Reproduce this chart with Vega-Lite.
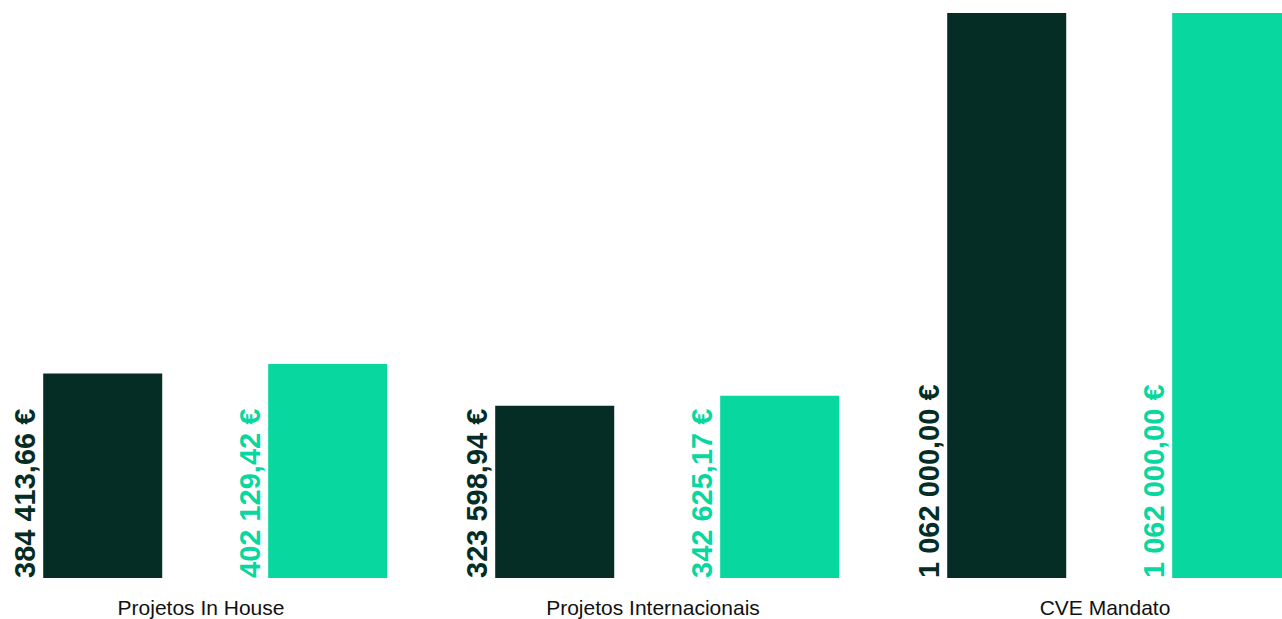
{
  "$schema": "https://vega.github.io/schema/vega-lite/v6.json",
  "width": 1282,
  "height": 565,
  "autosize": {"type": "none"},
  "padding": {"left": 0, "top": 13, "right": 0, "bottom": 41},
  "background": "#ffffff",
  "config": {
    "view": {"stroke": null},
    "locale": {"number": {"decimal": ",", "thousands": " ", "grouping": [3], "currency": ["", " €"]}}
  },
  "data": {
    "values": [
      {"categoria": "Projetos In House", "serie": "Orçamento", "valor": 384413.66},
      {"categoria": "Projetos In House", "serie": "Executado", "valor": 402129.42},
      {"categoria": "Projetos Internacionais", "serie": "Orçamento", "valor": 323598.94},
      {"categoria": "Projetos Internacionais", "serie": "Executado", "valor": 342625.17},
      {"categoria": "CVE Mandato", "serie": "Orçamento", "valor": 1062000},
      {"categoria": "CVE Mandato", "serie": "Executado", "valor": 1062000}
    ]
  },
  "encoding": {
    "x": {
      "field": "categoria", "type": "nominal",
      "sort": ["Projetos In House", "Projetos Internacionais", "CVE Mandato"],
      "scale": {"range": [0, 1356], "paddingInner": 0, "paddingOuter": 0},
      "axis": {"title": null, "domain": false, "ticks": false, "labelAngle": 0, "labelFontSize": 21, "labelFont": "Liberation Sans", "labelColor": "#111111", "labelPadding": 19, "labelOffset": -25, "labelLimit": 0}
    },
    "xOffset": {
      "field": "serie", "type": "nominal", "sort": ["Orçamento", "Executado"],
      "scale": {"paddingInner": 0.471, "paddingOuter": 0.24, "align": 0.4}
    },
    "color": {
      "field": "serie", "type": "nominal", "sort": ["Orçamento", "Executado"],
      "scale": {"domain": ["Orçamento", "Executado"], "range": ["#052d25", "#08d7a0"]},
      "legend": null
    }
  },
  "layer": [
    {
      "mark": {"type": "bar", "clip": true},
      "encoding": {
        "y": {"field": "valor", "type": "quantitative", "scale": {"domain": [0, 1062000], "nice": false}, "axis": null}
      }
    },
    {
      "mark": {"type": "text", "angle": 270, "align": "left", "baseline": "alphabetic", "dy": -68, "font": "Liberation Sans", "fontWeight": "bold", "fontSize": 29},
      "encoding": {
        "y": {"datum": 0, "type": "quantitative"},
        "text": {"field": "valor", "type": "quantitative", "format": "$,.2f"}
      }
    }
  ]
}
